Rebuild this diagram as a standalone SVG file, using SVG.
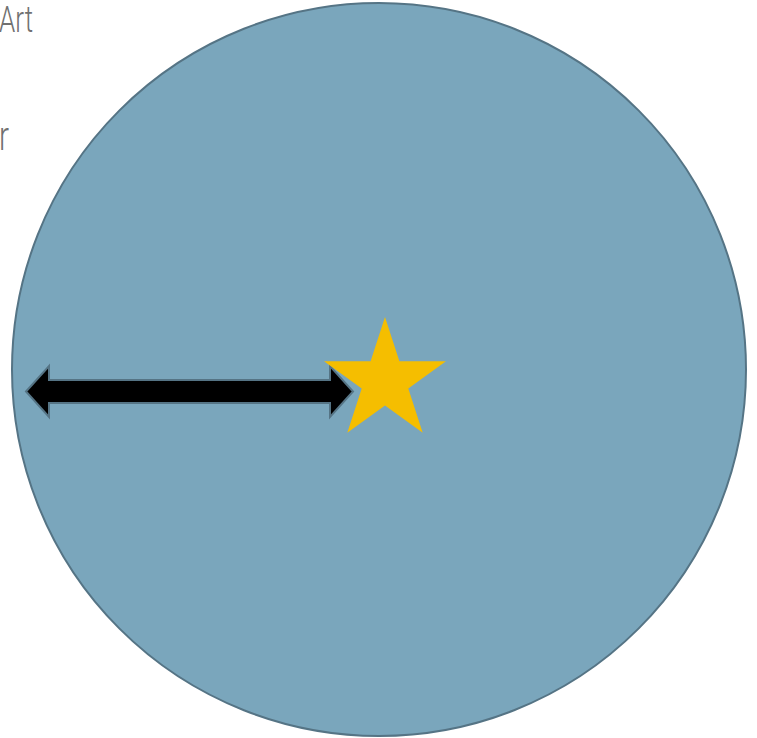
<svg xmlns="http://www.w3.org/2000/svg" width="757" height="738" viewBox="0 0 757 738">
<style>
.lbl{font-family:Roboto,"Liberation Sans",sans-serif;font-weight:300;fill:#707070}
</style>
<rect width="757" height="738" fill="#ffffff"/>
<g id="labels">
<text class="lbl" x="-1" y="32" font-size="36" textLength="34" lengthAdjust="spacingAndGlyphs">Art</text>
<text class="lbl" x="-1" y="150" font-size="40" textLength="10" lengthAdjust="spacingAndGlyphs">r</text>
</g>
<g id="circle">
<ellipse cx="379" cy="369.5" rx="367" ry="366.5" fill="#7AA6BC" stroke="#557485" stroke-width="2"/>
</g>
<g id="connectors">
<path d="M26,391.5 L49,366 L49,380 L330,380 L330,366 L353,391.5 L330,417 L330,403 L49,403 L49,417 Z" fill="#000000" stroke="#557485" stroke-width="2" stroke-linejoin="miter"/>
</g>
<g id="star">
<polygon points="385,317 399.4,361.2 446,361.2 408.3,388.6 422.7,432.8 385,405.4 347.3,432.8 361.7,388.6 324,361.2 370.6,361.2" fill="#F5BE00"/>
</g>
</svg>
